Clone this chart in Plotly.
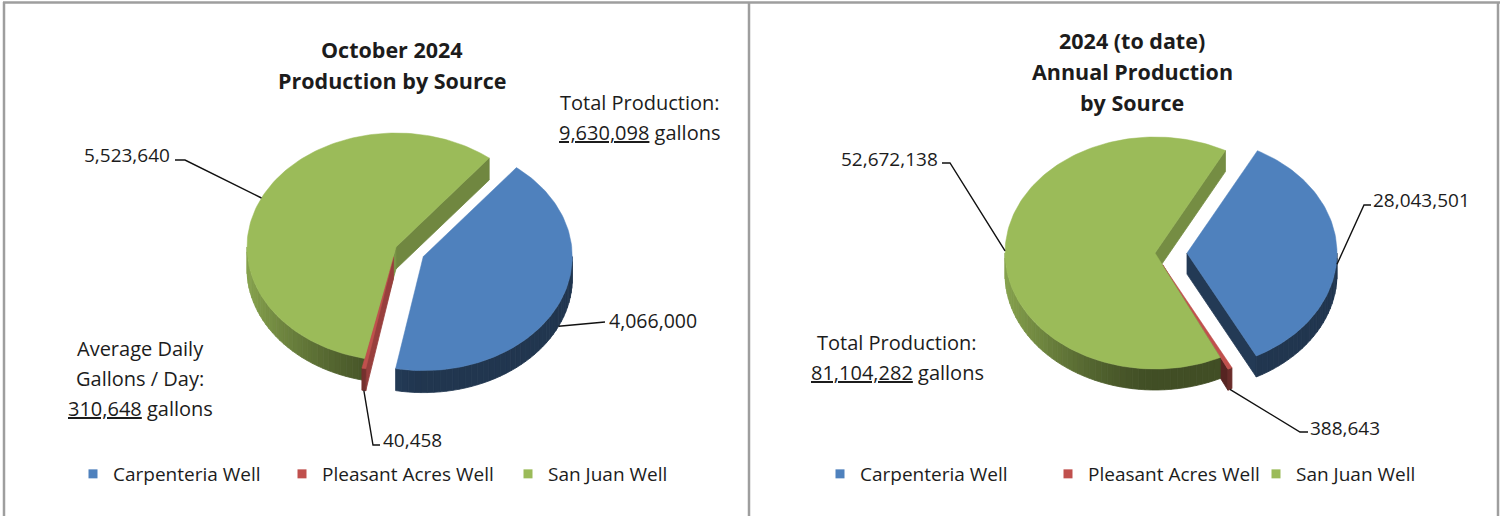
import math
import plotly.graph_objects as go

W, H = 1507, 516

# ---- data -------------------------------------------------------------
sources = ["Carpenteria Well", "Pleasant Acres Well", "San Juan Well"]
slice_colors = ["#4F81BD", "#C0504D", "#9BBB59"]

october_gallons = [4066000, 40458, 5523640]
ytd_gallons = [28043501, 388643, 52672138]
october_days = 31

october_title = ["October 2024", "Production by Source"]
ytd_title = ["2024 (to date)", "Annual Production", "by Source"]

FONT = "Open Sans"
TEXT = "#1C1C1C"

fig = go.Figure()


def shade(hex_color, m):
    r, g, b = (int(hex_color[i:i + 2], 16) for i in (1, 3, 5))
    return f"rgb({min(255, int(r * m))},{min(255, int(g * m))},{min(255, int(b * m))})"


def ell(cx, cy, rx, ry, phi):
    p = math.radians(phi)
    return cx + rx * math.sin(p), cy - ry * math.cos(p)


def add_poly(xs, ys, color, width=0.8):
    fig.add_trace(go.Scatter(
        x=list(xs) + [xs[0]], y=list(ys) + [ys[0]], mode="lines",
        fill="toself", fillcolor=color, line=dict(color=color, width=width),
        hoverinfo="skip", showlegend=False))


def front_intervals(a, b):
    """Parts of the angle range [a, b] that face the viewer (90..270 mod 360)."""
    out = []
    for lo, hi in ((90, 270), (450, 630), (-270, -90)):
        s, e = max(a, lo), min(b, hi)
        if e > s:
            out.append((s, e))
    return out


def pie3d(values, cx, cy, rx, ry, depth, rotation, explode):
    """Tilted, extruded pie; returns leader anchor points per slice."""
    total = sum(values)
    k = ry / rx
    walls, tops, anchors = [], [], []
    start = rotation
    for val, color, e in zip(values, slice_colors, explode):
        sweep = 360.0 * val / total
        a, b = start, start + sweep
        start = b
        mid = (a + b) / 2
        mr = math.radians(mid)
        ox = cx + e * math.sin(mr)
        oy = cy - e * k * math.cos(mr)

        # top face
        n = max(2, int(sweep / 1.5) + 1)
        arc = [ell(ox, oy, rx, ry, a + (b - a) * i / n) for i in range(n + 1)]
        tops.append(([ox] + [p[0] for p in arc], [oy] + [p[1] for p in arc], color))

        # curved outer wall, shaded segment by segment
        for s, t in front_intervals(a, b):
            m = max(1, int((t - s) / 2.5) + 1)
            for i in range(m):
                p0 = s + (t - s) * i / m
                p1 = s + (t - s) * (i + 1) / m
                pm = (p0 + p1) / 2
                lit = max(0.0, -math.sin(math.radians(pm)))
                if color == slice_colors[1]:
                    f = 0.55 + 0.3 * lit
                else:
                    f = 0.42 + 0.45 * lit ** 1.5
                sub = [p0 + (p1 - p0) * j / 3 for j in range(4)]
                pts = [ell(ox, oy, rx, ry, q) for q in sub]
                xs = [p[0] for p in pts] + [p[0] for p in reversed(pts)]
                ys = [p[1] for p in pts] + [p[1] + depth for p in reversed(pts)]
                key = ell(ox, oy, rx, ry, pm)[1]
                walls.append((key, xs, ys, shade(color, f)))

        # flat cut faces along the slice edges
        for edge, normal, visible in ((a, a - 90, math.sin(math.radians(a)) < 0),
                                      (b, b + 90, math.sin(math.radians(b)) > 0)):
            if not visible or sweep >= 359.9:
                continue
            ex, ey = ell(ox, oy, rx, ry, edge)
            f = 0.45 + 0.35 * max(0.0, math.sin(math.radians(normal)))
            xs = [ox, ex, ex, ox]
            ys = [oy, ey, ey + depth, oy + depth]
            walls.append(((oy + ey) / 2, xs, ys, shade(color, f)))

        # anchor for the value leader line
        axp, ayp = ell(ox, oy, rx, ry, mid)
        if math.cos(mr) <= 0:
            ayp += depth * min(1.0, 0.5 + 1.25 * (-math.cos(mr)))
        anchors.append((axp, ayp))

    for _, xs, ys, c in sorted(walls, key=lambda w: w[0]):
        add_poly(xs, ys, c)
    for xs, ys, c in tops:
        add_poly(xs, ys, c, width=0.5)
    return anchors


oct_anchor = pie3d(october_gallons, 396, 247, 149, 114, 22, 38.7, [30, 13, 0])
ytd_anchor = pie3d(ytd_gallons, 1155, 253, 150, 116, 21, 28.0, [32, 17, 0])

annotations = []


def label(x, y, text, anchor="center", size=19, bold=False):
    if bold:
        text = f"<b>{text}</b>"
    annotations.append(dict(
        x=x, y=y, xref="x", yref="y", text=text, showarrow=False,
        xanchor=anchor, yanchor="middle",
        font=dict(family=FONT, size=size, color=TEXT)))


def leader(anchor, path):
    xs = [anchor[0]] + [p[0] for p in path]
    ys = [anchor[1]] + [p[1] for p in path]
    fig.add_trace(go.Scatter(x=xs, y=ys, mode="lines",
                             line=dict(color="#111111", width=1.4),
                             hoverinfo="skip", showlegend=False))


# ---- value labels and leaders: October -------------------------------
leader(oct_anchor[2], [(185, 160), (175, 160)])
label(172, 155, f"{october_gallons[2]:,}", "right")
leader(oct_anchor[0], [(605, 322)])
label(607, 320, f"{october_gallons[0]:,}", "left", size=19.5)
leader(oct_anchor[1], [(373, 445), (380, 445)])
label(381, 440, f"{october_gallons[1]:,}", "left")

# ---- value labels and leaders: year to date ---------------------------
leader(ytd_anchor[2], [(950, 163), (942, 163)])
label(940, 159, f"{ytd_gallons[2]:,}", "right")
leader(ytd_anchor[0], [(1364, 205), (1371, 205)])
label(1371, 200, f"{ytd_gallons[0]:,}", "left")
leader(ytd_anchor[1], [(1300, 432), (1308, 432)])
label(1308, 428, f"{ytd_gallons[1]:,}", "left")

# ---- titles -----------------------------------------------------------
for i, line in enumerate(october_title):
    label(392, 49 + 31 * i, line, size=21.5, bold=True)
for i, line in enumerate(ytd_title):
    label(1132, 40 + 31 * i, line, size=21.5, bold=True)

# ---- totals -----------------------------------------------------------
oct_total = sum(october_gallons)
ytd_total = sum(ytd_gallons)
daily = round(oct_total / october_days)

label(640, 102, "Total Production:", size=20)
label(640, 132, f"<u>{oct_total:,}</u> gallons", size=20)
label(140, 348, "Average Daily", size=20)
label(140, 378, "Gallons / Day:", size=20)
label(140, 408, f"<u>{daily:,}</u> gallons", size=20)
label(897, 342, "Total Production:", size=20)
label(897, 372, f"<u>{ytd_total:,}</u> gallons", size=20)

# ---- legends ----------------------------------------------------------
oct_widths = [164, 181, 130]
ytd_widths = [183, 163, 130]
for name, color, w in zip(sources, slice_colors, oct_widths):
    fig.add_trace(go.Scatter(x=[None], y=[None], mode="markers", name=name,
                             marker=dict(symbol="square", size=9, color=color),
                             legend="legend", legendwidth=w))
for name, color, w in zip(sources, slice_colors, ytd_widths):
    fig.add_trace(go.Scatter(x=[None], y=[None], mode="markers", name=name,
                             marker=dict(symbol="square", size=9, color=color),
                             legend="legend2", legendwidth=w))

legend_style = dict(orientation="h", yanchor="middle", xanchor="left",
                    y=1 - 474 / H, font=dict(family=FONT, size=19, color=TEXT),
                    bgcolor="rgba(0,0,0,0)", itemwidth=30, entrywidthmode="pixels")

# ---- panel frames -----------------------------------------------------
frame = dict(type="line", xref="x", yref="y", line=dict(color="#9E9E9E", width=2.5))
shapes = [
    dict(frame, x0=3, x1=1500, y0=2.5, y1=2.5),
    dict(frame, x0=4, x1=4, y0=2, y1=H),
    dict(frame, x0=749, x1=749, y0=2, y1=H),
    dict(frame, x0=1498, x1=1498, y0=2, y1=H),
]

fig.update_layout(
    width=W, height=H,
    margin=dict(l=0, r=0, t=0, b=0),
    paper_bgcolor="white", plot_bgcolor="white",
    xaxis=dict(range=[0, W], visible=False, fixedrange=True),
    yaxis=dict(range=[H, 0], visible=False, fixedrange=True),
    annotations=annotations,
    shapes=shapes,
    legend=dict(legend_style, x=(118 - 45) / W),
    legend2=dict(legend_style, x=(865 - 45) / W),
    showlegend=True,
)

fig.write_html("out.html")
